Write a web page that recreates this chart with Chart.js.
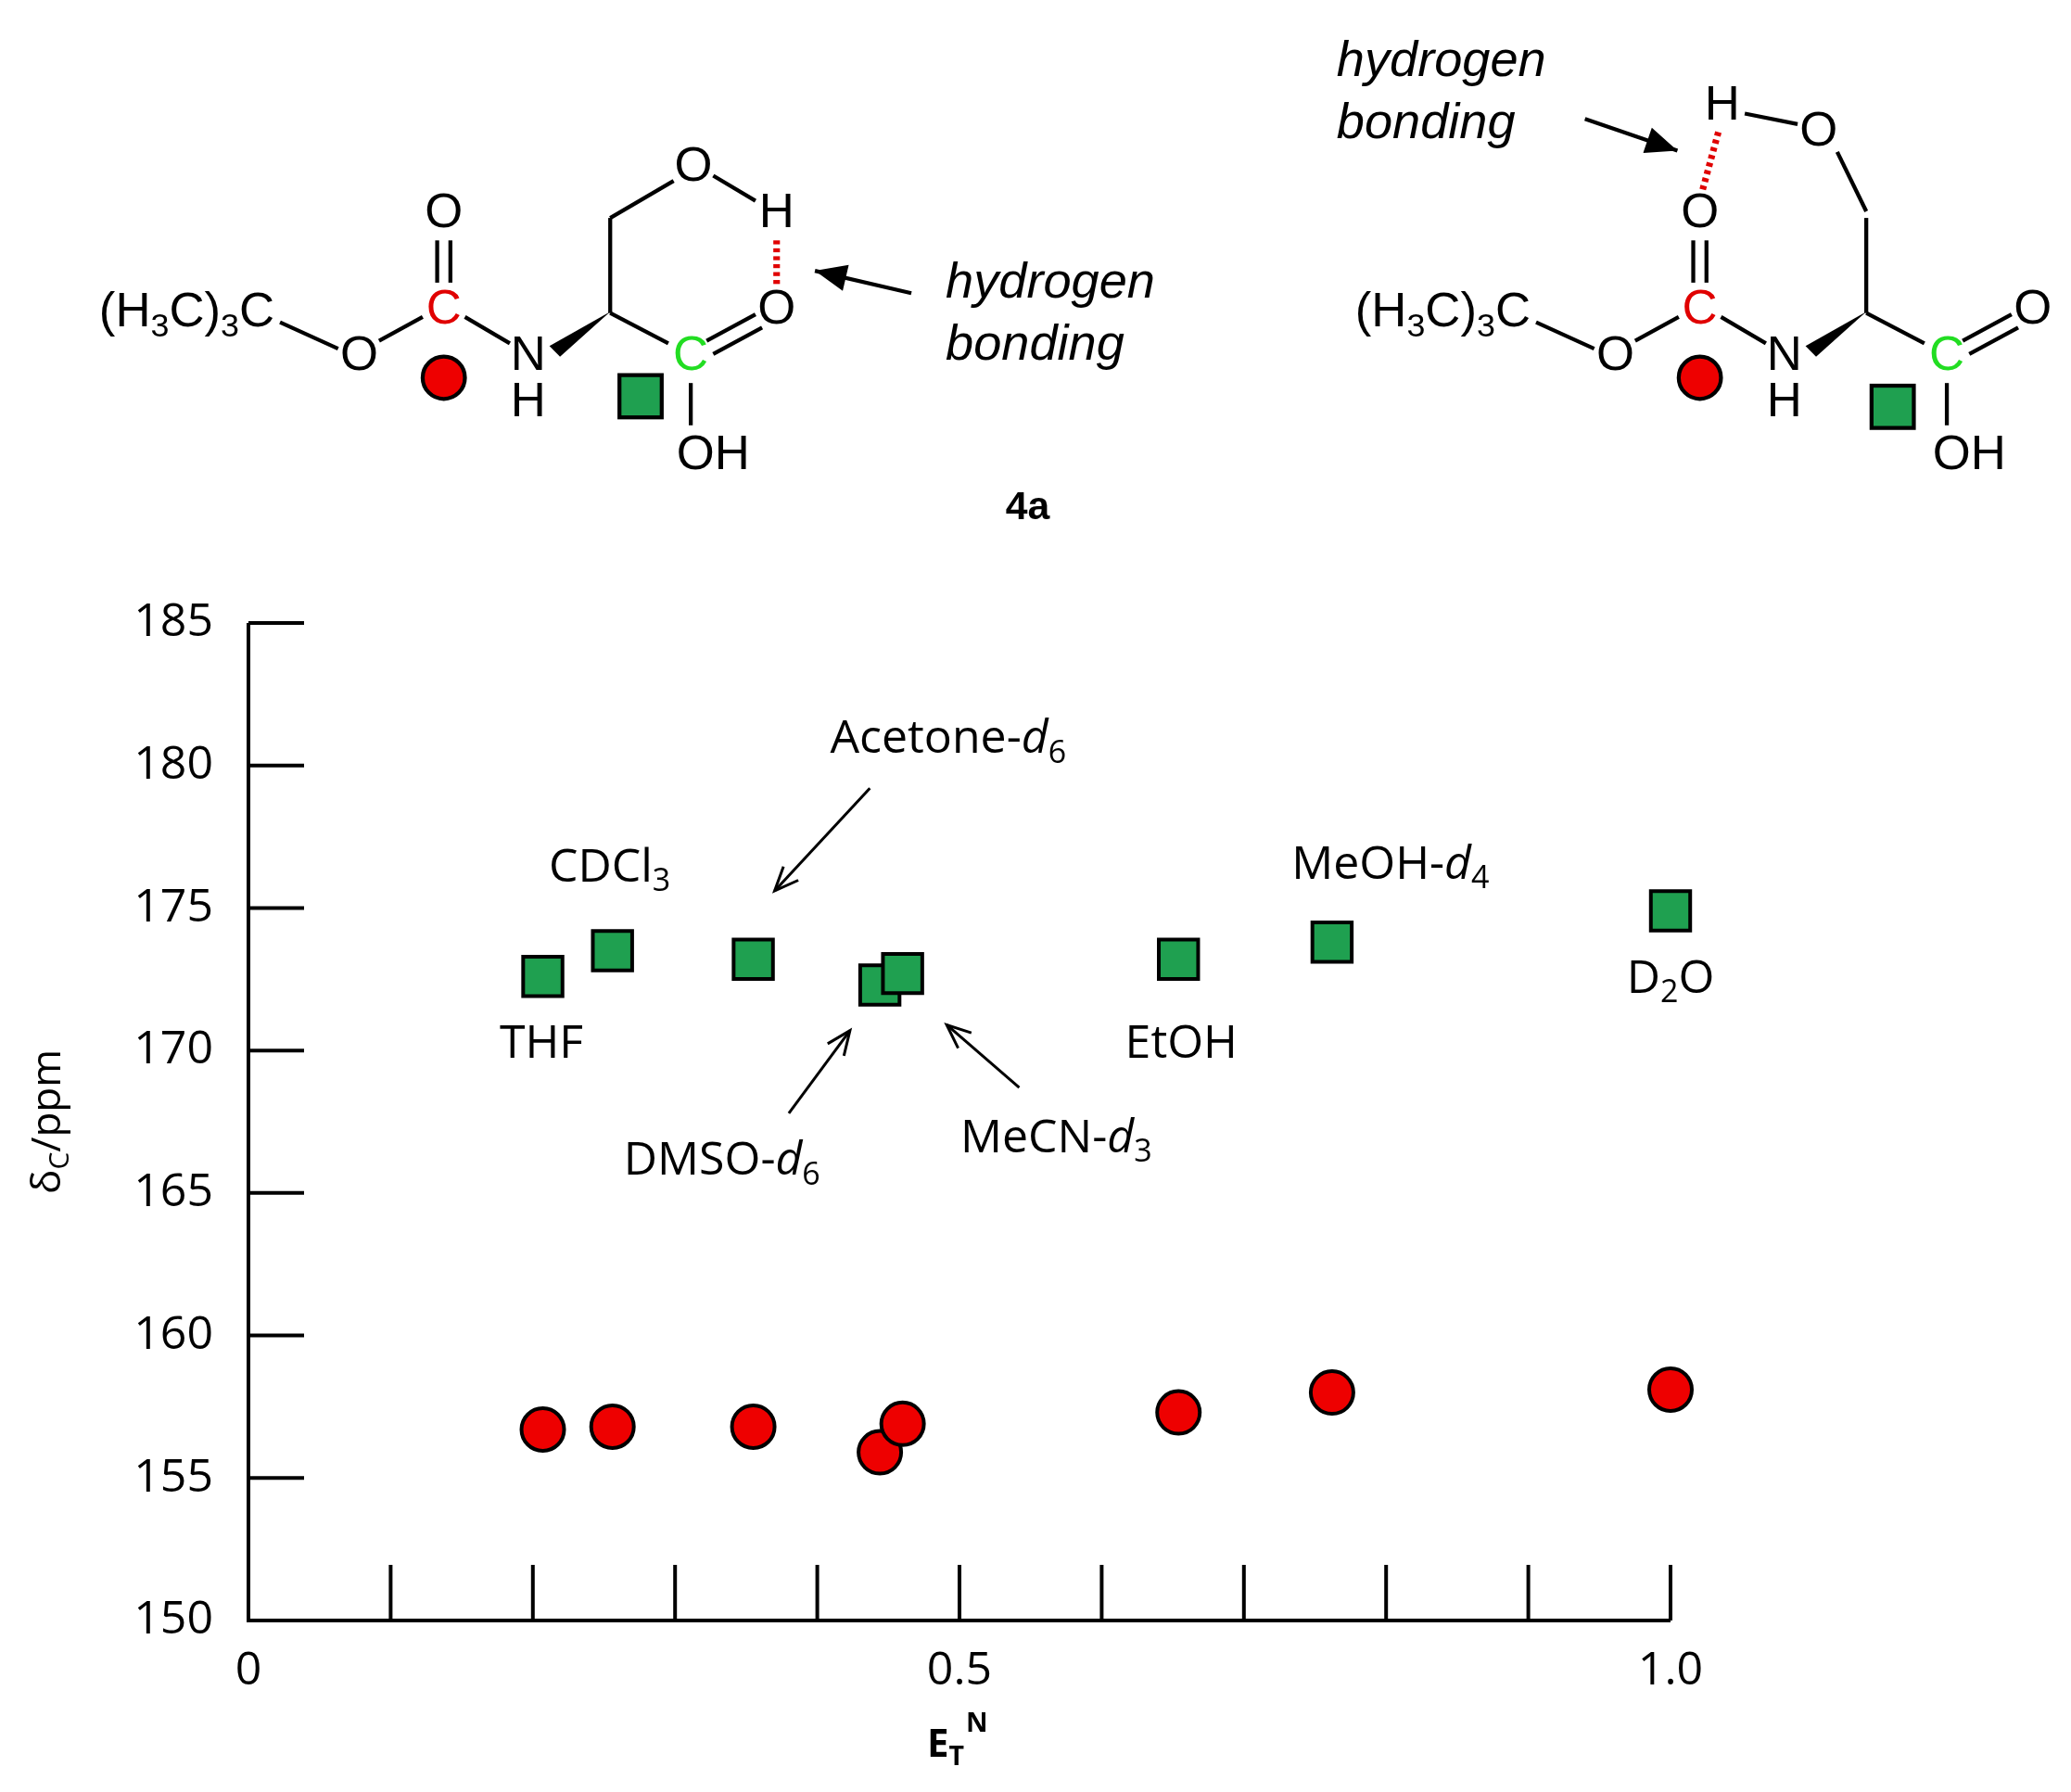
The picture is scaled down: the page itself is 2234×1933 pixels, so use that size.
<!DOCTYPE html>
<html><head><meta charset="utf-8">
<script src="https://cdn.jsdelivr.net/npm/chart.js@4"></script>
<style>html,body{margin:0;padding:0;background:#fff}#w{width:2234px;height:1933px}</style>
</head><body><div id="w"><canvas id="c"></canvas></div>
<script>
// ---- data ----
const solvents = ['THF','CDCl3','Acetone-d6','DMSO-d6','MeCN-d3','EtOH','MeOH-d4','D2O'];
const etN      = [0.207, 0.256, 0.355, 0.444, 0.460, 0.654, 0.762, 1.0];
const coohC    = [172.6, 173.5, 173.2, 172.3, 172.7, 173.2, 173.8, 174.9];
const bocC     = [156.7, 156.8, 156.8, 155.9, 156.9, 157.3, 158.0, 158.1];
const yTicks   = [150,155,160,165,170,175,180,185];
const xTicks   = [0,0.1,0.2,0.3,0.4,0.5,0.6,0.7,0.8,0.9,1.0];
const xLabels  = {0:'0',0.5:'0.5',1:'1.0'};

const S = 2234/1568;
const FONT = '"Open Sans", Lato, sans-serif';
const ARIAL = '"Liberation Sans", Arial, sans-serif';

function rich(ctx, segs, x, y, size, align, family, bold) {
  family = family || FONT;
  const f = (s, it) => (it ? 'italic ' : '') + (bold ? 'bold ' : '') + s + 'px ' + family;
  let w = 0;
  segs.forEach(([t, m]) => { ctx.font = f((m==='sub'||m==='sup') ? size*0.68 : size, m==='i'); w += ctx.measureText(t).width; });
  let cx = align === 'center' ? x - w/2 : (align === 'right' ? x - w : x);
  ctx.textBaseline = 'middle'; ctx.textAlign = 'left';
  segs.forEach(([t, m]) => {
    const sm = (m==='sub'||m==='sup');
    ctx.font = f(sm ? size*0.68 : size, m==='i');
    const dy = m==='sub' ? size*0.3 : (m==='sup' ? -size*0.35 : 0);
    ctx.fillText(t, cx, y + dy); cx += ctx.measureText(t).width;
  });
}
function arrow(ctx, x1, y1, x2, y2, head, lw, filled) {
  ctx.lineWidth = lw; ctx.beginPath(); ctx.moveTo(x1,y1); ctx.lineTo(x2,y2); ctx.stroke();
  const a = Math.atan2(y2-y1, x2-x1);
  const p1 = [x2 - head*Math.cos(a-0.4), y2 - head*Math.sin(a-0.4)];
  const p2 = [x2 - head*Math.cos(a+0.4), y2 - head*Math.sin(a+0.4)];
  ctx.beginPath(); ctx.moveTo(p1[0],p1[1]); ctx.lineTo(x2,y2); ctx.lineTo(p2[0],p2[1]);
  if (filled) { ctx.closePath(); ctx.fill(); } else ctx.stroke();
}
function line(ctx, pts) { ctx.beginPath(); ctx.moveTo(pts[0],pts[1]); for (let i=2;i<pts.length;i+=2) ctx.lineTo(pts[i],pts[i+1]); ctx.stroke(); }

const notes = [
  {segs:[['CDCl','n'],['3','sub']], x:0.254, y:176.4},
  {segs:[['THF','n']], x:0.206, y:170.2},
  {segs:[['Acetone-','n'],['d','i'],['6','sub']], x:0.492, y:180.9, arr:[0.437,179.2,0.370,175.6]},
  {segs:[['DMSO-','n'],['d','i'],['6','sub']], x:0.333, y:166.1, arr:[0.380,167.8,0.423,170.7]},
  {segs:[['MeCN-','n'],['d','i'],['3','sub']], x:0.568, y:166.9, arr:[0.542,168.7,0.491,170.9]},
  {segs:[['EtOH','n']], x:0.656, y:170.2},
  {segs:[['MeOH-','n'],['d','i'],['4','sub']], x:0.803, y:176.5},
  {segs:[['D','n'],['2','sub'],['O','n']], x:1.0, y:172.5},
];

function structure(ctx, ox, v2) {
  ctx.save(); ctx.translate(ox, 0);
  ctx.strokeStyle = '#000'; ctx.fillStyle = '#000'; ctx.lineWidth = 3;
  const fs = 37;
  rich(ctx, [['(H','n'],['3','sub'],['C)','n'],['3','sub'],['C','n']], 75, 237, fs, 'left', ARIAL);
  ctx.font = fs+'px '+ARIAL; ctx.textAlign='center'; ctx.textBaseline='middle';
  ctx.fillText('O', 272, 270); ctx.fillText('O', 336, 162); ctx.fillText('N', 400, 270); ctx.fillText('H', 400, 305);
  ctx.fillText('OH', 540, 345);
  ctx.fillStyle = '#e00000'; ctx.fillText('C', 336, 235);
  ctx.fillStyle = '#22dd22'; ctx.fillText('C', 523, 270);
  ctx.fillStyle = '#000';
  line(ctx,[212,244,256,264]); line(ctx,[287,258,320,240]);
  line(ctx,[331,182,331,214]); line(ctx,[341,182,341,214]);
  line(ctx,[352,240,386,260]);
  ctx.beginPath(); ctx.moveTo(416,262); ctx.lineTo(462,236); ctx.lineTo(424,270); ctx.closePath(); ctx.fill();
  line(ctx,[462,237,462,165]);
  line(ctx,[462,237,506,260]);
  line(ctx,[523,290,523,322]);
  if (!v2) {
    line(ctx,[462,165,510,137]);
    ctx.fillText('O', 525, 127); ctx.fillText('H', 588, 162);
    line(ctx,[540,133,572,152]);
    ctx.fillText('O', 588, 235);
    line(ctx,[535,258,572,238]); line(ctx,[540,268,577,248]);
    ctx.strokeStyle='#e00000'; ctx.lineWidth=5; ctx.setLineDash([3,3]); line(ctx,[588,182,588,218]); ctx.setLineDash([]);
    ctx.strokeStyle='#000';
  } else {
    line(ctx,[462,160,440,115]);
    ctx.fillText('O', 426, 100); ctx.fillText('H', 353, 80);
    line(ctx,[410,94,370,86]);
    ctx.fillText('O', 588, 235);
    line(ctx,[535,258,572,238]); line(ctx,[540,268,577,248]);
    ctx.strokeStyle='#e00000'; ctx.lineWidth=5; ctx.setLineDash([3,3]); line(ctx,[350,100,338,144]); ctx.setLineDash([]);
    ctx.strokeStyle='#000';
  }
  ctx.lineWidth = 3;
  ctx.fillStyle = '#ee0000'; ctx.beginPath(); ctx.arc(336, 286, 16, 0, 2*Math.PI); ctx.fill(); ctx.stroke();
  const sx = v2 ? 466 : 469, sy = v2 ? 292 : 284;
  ctx.fillStyle = '#1fa050'; ctx.fillRect(sx, sy, 32, 32); ctx.strokeRect(sx, sy, 32, 32);
  ctx.restore();
}

const deco = {
  id: 'deco',
  afterDraw(chart) {
    const ctx = chart.ctx, xs = chart.scales.x, ys = chart.scales.y;
    ctx.save();
    ctx.strokeStyle = '#000'; ctx.fillStyle = '#000'; ctx.lineWidth = 4;
    const x0 = xs.getPixelForValue(0), x1 = xs.getPixelForValue(1);
    const yb = ys.getPixelForValue(150), yt = ys.getPixelForValue(185);
    line(ctx,[x0, yt, x0, yb, x1, yb]);
    yTicks.forEach(v => { const p = ys.getPixelForValue(v); line(ctx,[x0, p, x0+60, p]); });
    xTicks.forEach(v => { const p = xs.getPixelForValue(v); line(ctx,[p, yb, p, yb-60]); });
    ctx.font = '50px ' + FONT; ctx.textAlign = 'right'; ctx.textBaseline = 'middle';
    yTicks.forEach(v => ctx.fillText(String(v), x0 - 38, ys.getPixelForValue(v)));
    ctx.textAlign = 'center'; ctx.textBaseline = 'middle';
    xTicks.forEach(v => { const k = Math.round(v*10)/10; if (xLabels[k] !== undefined) ctx.fillText(xLabels[k], xs.getPixelForValue(v), yb + 55); });
    rich(ctx, [['E','n'],['T','sub']], 1000, 1883, 42, 'left', FONT, true);
    ctx.font = 'bold 29px ' + FONT; ctx.textAlign='left'; ctx.fillText('N', 1042, 1860);
    ctx.save(); ctx.translate(52, (yt+yb)/2); ctx.rotate(-Math.PI/2);
    rich(ctx, [['δ','n'],['C','sub'],['/ppm','n']], 0, 0, 44, 'center');
    ctx.restore();
    notes.forEach(n => {
      rich(ctx, n.segs, xs.getPixelForValue(n.x), ys.getPixelForValue(n.y), 50, 'center');
      if (n.arr) { ctx.lineWidth = 3; arrow(ctx, xs.getPixelForValue(n.arr[0]), ys.getPixelForValue(n.arr[1]), xs.getPixelForValue(n.arr[2]), ys.getPixelForValue(n.arr[3]), 28, 3, false); }
    });
    ctx.save(); ctx.scale(S, S);
    structure(ctx, 0, false);
    structure(ctx, 951, true);
    ctx.fillStyle='#000'; ctx.strokeStyle='#000';
    rich(ctx, [['hydrogen','i']], 716, 215, 38, 'left', ARIAL);
    rich(ctx, [['bonding','i']], 716, 262, 38, 'left', ARIAL);
    arrow(ctx, 690, 222, 617, 205, 26, 3, true);
    rich(ctx, [['hydrogen','i']], 1012, 47, 38, 'left', ARIAL);
    rich(ctx, [['bonding','i']], 1012, 94, 38, 'left', ARIAL);
    arrow(ctx, 1200, 90, 1270, 114, 26, 3, true);
    ctx.font = 'bold 30px ' + ARIAL; ctx.textAlign='center'; ctx.fillText('4a', 778, 385);
    ctx.restore();
    ctx.restore();
  }
};

new Chart(document.getElementById('c'), {
  type: 'scatter',
  data: { datasets: [
    { label: 'COOH', data: etN.map((x,i)=>({x, y: coohC[i]})), pointStyle: 'rect', pointRadius: 30, pointHoverRadius: 30,
      backgroundColor: '#1fa050', borderColor: '#000', borderWidth: 4, clip: false },
    { label: 'Boc', data: etN.map((x,i)=>({x, y: bocC[i]})), pointStyle: 'circle', pointRadius: 23, pointHoverRadius: 23,
      backgroundColor: '#ee0000', borderColor: '#000', borderWidth: 4, clip: false },
  ]},
  options: {
    responsive: true, maintainAspectRatio: false, animation: false, devicePixelRatio: 1,
    layout: { padding: { left: 268, right: 432, top: 672, bottom: 185 } },
    plugins: { legend: { display: false }, tooltip: { enabled: false } },
    scales: {
      x: { type: 'linear', min: 0, max: 1, display: false },
      y: { type: 'linear', min: 150, max: 185, display: false }
    }
  },
  plugins: [deco]
});
</script></body></html>
